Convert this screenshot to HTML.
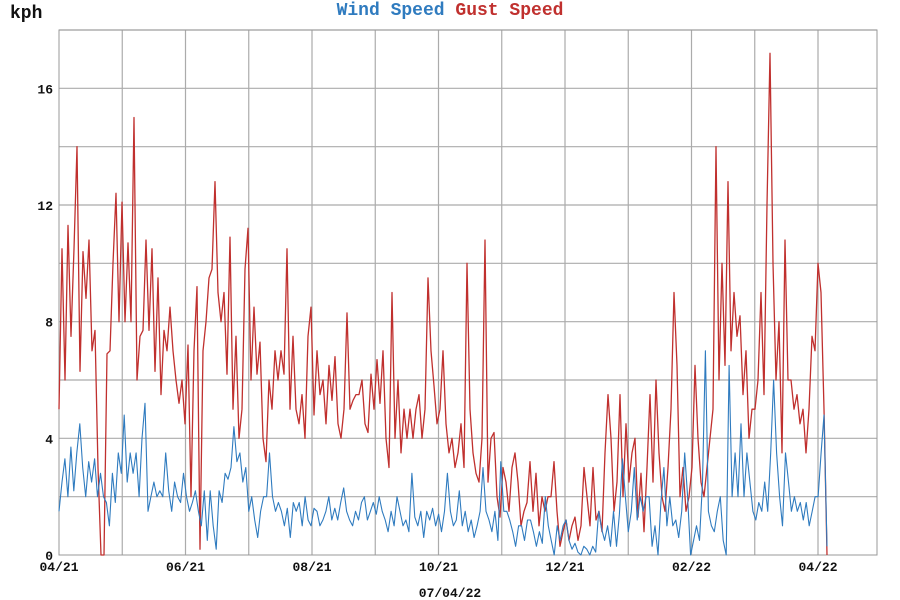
<!DOCTYPE html>
<html><head><meta charset="utf-8"><style>
body{margin:0;background:#fff;}
svg{display:block;font-family:"Liberation Mono",monospace;font-weight:bold;}
</style></head><body>
<svg id="chart" width="900" height="600" viewBox="0 0 900 600">
<text x="10" y="18" font-size="18" fill="#111">kph</text>
<text x="450" y="15" font-size="18" text-anchor="middle"><tspan fill="#2f7bbf">Wind Speed</tspan> <tspan fill="#c0302e">Gust Speed</tspan></text>
<text x="450" y="597" font-size="13" text-anchor="middle" fill="#111">07/04/22</text>
<g id="grid"></g>
<g id="axes"></g>
<g id="series"></g>
</svg>
<script>
const yTicks=[0,4,8,12,16];
const xTickLabels=["04/21","06/21","08/21","10/21","12/21","02/22","04/22"];
const gust=[5.0,10.5,6.0,11.3,7.5,10.5,14.0,6.3,10.4,8.8,10.8,7.0,7.7,3.0,0,0,6.9,7.0,10,12.4,8.0,12.1,8.0,10.7,8.0,15.0,6.0,7.5,7.7,10.8,7.7,10.5,6.3,9.5,5.5,7.7,7.0,8.5,7.0,6.0,5.2,6.0,4.5,7.2,2.0,7.0,9.2,0.2,7.0,8.0,9.5,9.8,12.8,9.0,8.0,9.0,6.2,10.9,5.0,7.5,4.0,5.0,9.8,11.2,6.0,8.5,6.2,7.3,4.0,3.2,6.0,5.0,7.0,6.0,7.0,6.2,10.5,5.0,7.5,5.0,4.5,5.5,4.0,7.5,8.5,4.8,7.0,5.5,6.0,4.5,6.5,5.3,6.8,4.5,4.0,5.0,8.3,5.0,5.3,5.5,5.5,6.0,4.5,4.2,6.2,5.0,6.7,5.2,7.0,4.0,3.0,9.0,4.0,6.0,3.5,5.0,4.0,5.0,4.0,5.0,5.5,4.0,5.0,9.5,7.0,5.8,4.5,5.0,7.0,4.5,3.5,4.0,3.0,3.5,4.5,3.0,10.0,5.0,3.5,2.8,2.5,4.0,10.8,2.5,4.0,4.2,2.0,1.3,3.0,2.5,1.5,3.0,3.5,2.5,1.0,1.5,1.8,3.2,1.5,2.8,1.0,2.0,1.5,2.0,2.0,3.2,1.5,0.3,0.8,1.2,0.5,1.0,1.3,0.5,1.0,3.0,2.0,1.0,3.0,1.2,1.5,0.8,3.5,5.5,4.0,1.5,2.5,5.5,2.0,4.5,2.5,3.5,4.0,1.3,2.8,0.8,3.0,5.5,2.5,6.0,3.5,2.0,1.5,3.0,5.0,9.0,6.5,2.0,3.0,1.5,2.0,3.0,6.5,4.0,2.5,2.0,3.0,4.0,5.0,14.0,6.0,10.0,6.5,12.8,7.0,9.0,7.5,8.2,5.5,7.0,4.0,5.0,5.0,6.0,9.0,5.5,12.0,17.2,10.0,6.0,8.0,3.5,10.8,6.0,6.0,5.0,5.5,4.5,5.0,3.5,5.0,7.5,7.0,10.0,9.0,5.0,0];
const wind=[1.5,2.5,3.3,2.0,3.7,2.2,3.5,4.5,3.0,2.0,3.2,2.5,3.3,2.0,2.8,2.0,1.8,1.0,2.8,1.8,3.5,2.8,4.8,2.5,3.5,2.8,3.5,2.0,4.0,5.2,1.5,2.0,2.5,2.0,2.2,2.0,3.5,2.2,1.5,2.5,2.0,1.8,2.8,2.0,1.5,1.8,2.2,1.5,1.0,2.2,0.5,2.2,1.0,0.2,2.2,1.8,2.8,2.6,3.0,4.4,3.2,3.5,2.5,3.0,1.5,2.0,1.2,0.6,1.5,2.0,2.0,3.5,2.0,1.5,1.8,1.5,1.0,1.6,0.6,1.8,1.5,1.8,1.0,2.0,1.2,1.0,1.6,1.5,1.0,1.2,1.5,2.0,1.2,1.6,1.2,1.8,2.3,1.5,1.2,1.0,1.5,1.2,1.8,2.0,1.2,1.5,1.8,1.4,2.0,1.5,1.2,0.8,1.5,1.0,2.0,1.5,1.0,1.2,0.8,2.8,1.3,1.0,1.5,0.6,1.5,1.2,1.6,1.0,1.4,0.8,1.5,2.8,1.5,1.0,1.2,2.2,1.0,1.5,0.8,1.2,0.6,1.0,1.5,3.0,1.5,1.2,0.8,1.5,0.5,3.2,1.5,1.5,1.2,0.8,0.3,1.0,1.0,0.5,1.2,1.2,0.8,0.3,0.8,0.4,2.0,1.0,0.5,0.0,1.0,0.5,1.0,1.2,0.5,0.2,0.4,0.1,0.0,0.3,0.2,0.0,0.3,0.1,1.5,0.9,0.5,1.0,0.3,1.5,0.3,1.4,3.3,2.0,0.8,1.5,3.0,1.2,2.0,1.5,2.0,2.0,0.3,1.0,0.0,1.8,3.0,1.0,2.0,1.0,1.2,0.6,1.5,3.5,2.0,0.0,0.5,1.0,0.5,2.5,7.0,1.5,1.0,0.8,1.5,2.0,0.5,0.0,6.5,2.0,3.5,2.0,4.5,2.0,3.5,2.5,1.5,1.2,1.8,1.5,2.5,1.5,3.5,6.0,3.5,2.0,1.0,3.5,2.5,1.5,2.0,1.5,1.8,1.2,1.8,1.0,1.5,2.0,2.0,3.5,4.8,0.3];

const L=59,R=877,T=30,B=555,YMAX=18;
const startX=59,endX=827;
const monthW=(818-59)/12;
function yS(v){return B-(v/YMAX)*(B-T);}
function xS(i,n){return startX+(endX-startX)*i/(n-1);}
const NS="http://www.w3.org/2000/svg";
function mk(tag,attrs,parent){const e=document.createElementNS(NS,tag);for(const k in attrs)e.setAttribute(k,attrs[k]);parent.appendChild(e);return e;}
const grid=document.getElementById('grid'),axes=document.getElementById('axes'),series=document.getElementById('series');
for(let v=2;v<=YMAX;v+=2){
  const l=mk('line',{x1:L,x2:R,y1:yS(v),y2:yS(v),stroke:'#ababab','stroke-width':1.2},grid);
  
  
}
for(let m=1;m<=12;m++){
  const x=L+m*monthW;
  const l=mk('line',{x1:x,x2:x,y1:T,y2:B,stroke:'#ababab','stroke-width':1.2},grid);
  
  
}
const fr=mk('rect',{x:L,y:T,width:R-L,height:B-T,fill:'none',stroke:'#999','stroke-width':1},grid);


yTicks.forEach(v=>{
  const t=mk('text',{x:53,y:yS(v)+5,'text-anchor':'end','font-size':13,fill:'#111'},axes);
  t.textContent=v;
  
  
});
xTickLabels.forEach((s,i)=>{
  const t=mk('text',{x:L+i*2*monthW,y:571,'text-anchor':'middle','font-size':13,fill:'#111'},axes);
  t.textContent=s;
  
  
});
function line(arr,color,name,w){
  const pts=arr.map((v,i)=>xS(i,arr.length).toFixed(1)+','+yS(v).toFixed(1)).join(' ');
  const p=mk('polyline',{points:pts,fill:'none',stroke:color,'stroke-width':w,'stroke-linejoin':'round'},series);
  
  
}
line(gust,'#c0302e','gust-speed-line',1.3);
line(wind,'#2f7bbf','wind-speed-line',1.1);
</script>
</body></html>
